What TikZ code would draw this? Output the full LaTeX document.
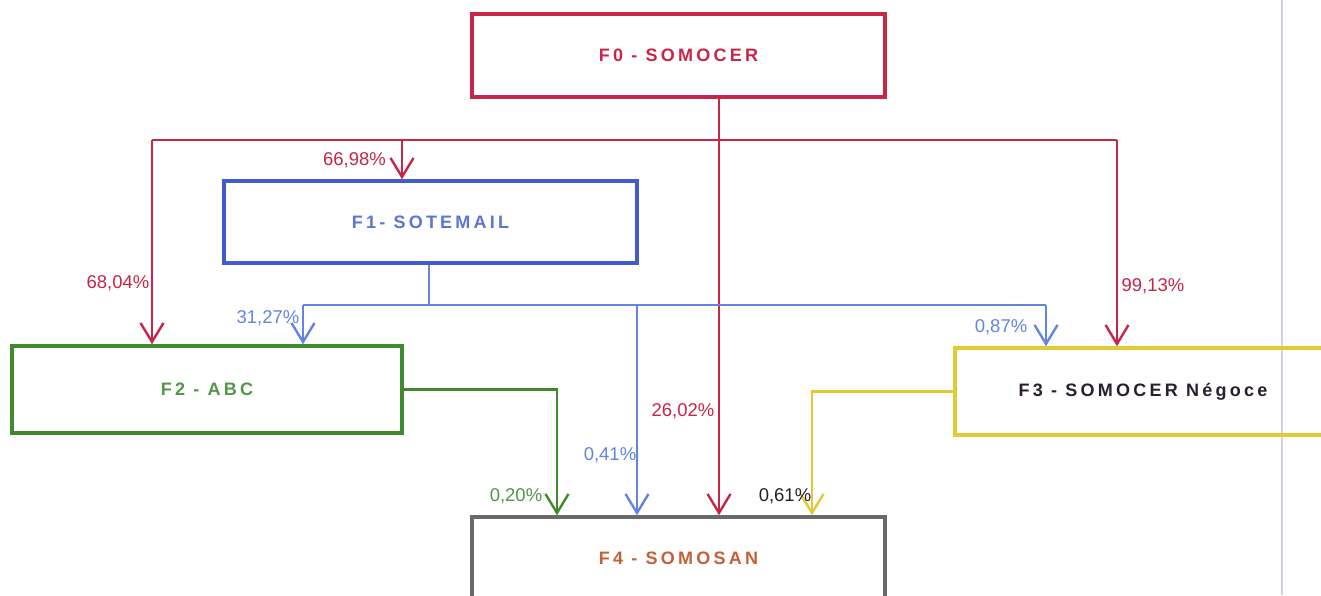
\documentclass[tikz,border=0pt]{standalone}
\usepackage{fontspec}
\setmainfont{Liberation Sans}
\usetikzlibrary{arrows.meta}
\definecolor{cred}{RGB}{200,38,72}
\definecolor{cblue}{RGB}{66,92,208}
\definecolor{cbluel}{RGB}{100,132,226}
\definecolor{cbluet}{RGB}{92,118,214}
\definecolor{cgreen}{RGB}{62,138,44}
\definecolor{cgreent}{RGB}{82,150,72}
\definecolor{cyellow}{RGB}{226,202,52}
\definecolor{cgray}{RGB}{105,105,108}
\definecolor{cbrown}{RGB}{196,96,56}
\definecolor{cdark}{RGB}{42,30,48}
\definecolor{cedge}{RGB}{214,208,226}
\begin{document}
\begin{tikzpicture}[x=1pt,y=-1pt,
  box/.style={draw,line width=3.5pt,minimum width=#1,inner sep=0pt,
    font=\fontsize{18}{20}\selectfont\bfseries\addfontfeatures{LetterSpace=18}},
  box/.default=413pt,
  conn/.style={line width=2.4pt},
  arr/.style={conn,-{Straight Barb[length=19pt,width=23pt,line width=2.4pt]}},
  lbl/.style={font=\fontsize{18.5}{20}\selectfont,inner sep=0pt}]
\useasboundingbox (0,0) rectangle (1321,595);
\fill[white] (0,0) rectangle (1321,595);
\draw[cedge,line width=1.5pt] (1282,0) -- (1282,595);
% boxes
\node[box,draw=cred,text=cred,minimum height=83pt] (F0) at (678.5,55.5) {F0 - SOMOCER};
\node[box,draw=cblue,text=cbluet,minimum height=82pt] (F1) at (430.5,222) {F1- SOTEMAIL};
\node[box=390pt,draw=cgreen,text=cgreent,minimum height=87pt] (F2) at (207,389.5) {F2 - ABC};
\node[box=376pt,draw=cyellow,text=cdark,minimum height=87pt] (F3) at (1143,391.5) {F3 - SOMOCER Négoce};
\node[box,draw=cgray,text=cbrown,minimum height=82pt] (F4) at (678.5,558) {F4 - SOMOSAN};
% coordinates
\coordinate (rL) at (152,140);
\coordinate (r1) at (402,140);
\coordinate (rR) at (1117,140);
\coordinate (r4) at (719,140);
\coordinate (bL) at (303,305);
\coordinate (bR) at (1046,305);
\coordinate (b4) at (637,305);
\coordinate (g4) at (557,0);
\coordinate (y4) at (812,0);
% red
\draw[conn,cred] (rL) -- (rR);
\draw[arr,cred] (rL) -- (rL |- F2.north);
\draw[arr,cred] (r1) -- (r1 |- F1.north);
\draw[arr,cred] (rR) -- (rR |- F3.north);
\draw[arr,cred] (r4 |- F0.south) -- (r4 |- F4.north);
% blue
\draw[conn,cbluel] (F1.south -| 429,0) -- (429,305);
\draw[conn,cbluel] (bL) -- (bR);
\draw[arr,cbluel] (bL) -- (bL |- F2.north);
\draw[arr,cbluel] (bR) -- (bR |- F3.north);
\draw[arr,cbluel] (b4) -- (b4 |- F4.north);
% green, yellow
\draw[arr,cgreen] (F2.east) -| (g4 |- F4.north);
\draw[arr,cyellow] (F3.west) -| (y4 |- F4.north);
% labels
\node[lbl,text=cred,anchor=east] (l1) at (386,160) {66,98\%};
\node[lbl,text=cred] (l2) at (118,283) {68,04\%};
\node[lbl,text=cred] (l3) at (1153,286) {99,13\%};
\node[lbl,text=cred] (l4) at (683,411) {26,02\%};
\node[lbl,text=cbluel] (l5) at (268,318) {31,27\%};
\node[lbl,text=cbluel] (l6) at (1001,327) {0,87\%};
\node[lbl,text=cbluel] (l7) at (610,455) {0,41\%};
\node[lbl,text=cgreent] (l8) at (516,496) {0,20\%};
\node[lbl,text=cdark] (l9) at (785,496) {0,61\%};
\end{tikzpicture}
\end{document}
